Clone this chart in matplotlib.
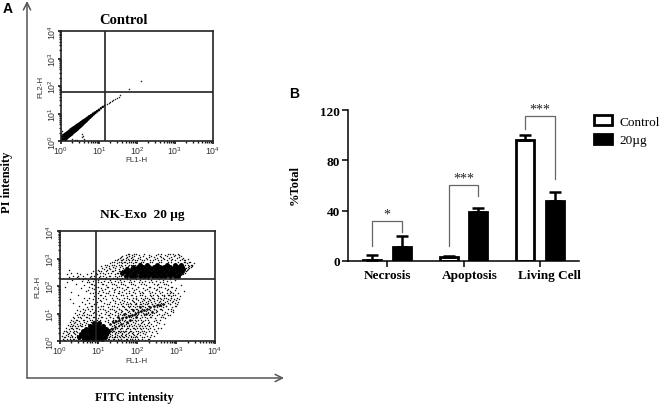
import matplotlib.pyplot as plt
from matplotlib.patches import Patch
from matplotlib.transforms import ScaledTranslation

plt.rcParams['font.family'] = ['Liberation Serif', 'DejaVu Sans']
plt.rcParams['mathtext.default'] = 'regular'

W, H = 662, 406

# bar chart values
groups = ["Necrosis", "Apoptosis", "Living Cell"]
control_vals = [1, 3.5, 96]
control_err = [4, 0.3, 4.5]
treated_vals = [11, 39, 48]
treated_err = [9, 3.5, 6.5]
yticks = [0, 40, 80, 120]
stars = ["*", "***", "***"]
# bracket: left foot, top, right foot
bracket_left = [12, 12, 105]
bracket_top = [32, 60.5, 115]
bracket_right = [23, 52, 65]
label_shift = [0, 6, 9]

# flow plots, positions in decades
decades = [0, 1, 2, 3, 4]
ctrl_gate = (1.16, 1.78)
nk_gate = (0.94, 2.25)

# control diagonal band (x, y, marker size)
ctrl_band_x = [0.02, 0.06, 0.1, 0.15, 0.2, 0.25, 0.3, 0.35, 0.4, 0.45, 0.5, 0.55, 0.6, 0.65, 0.7, 0.75, 0.8, 0.85, 0.9, 0.95, 1.0, 1.05, 1.1, 1.15]
ctrl_band_y = [0.05, 0.1, 0.14, 0.2, 0.25, 0.3, 0.37, 0.42, 0.47, 0.53, 0.58, 0.64, 0.7, 0.75, 0.81, 0.87, 0.92, 0.98, 1.03, 1.08, 1.13, 1.19, 1.24, 1.29]
ctrl_band_s = [30, 30, 28, 26, 25, 25, 24, 24, 22, 20, 18, 16, 14, 12, 10, 9, 7, 6, 5, 4, 4, 3, 3, 2]
ctrl_dots_x = [0.0, 0.02, 0.03, 0.05, 0.08, 0.12, 0.3, 0.38, 0.55, 0.57, 0.56, 0.6, 0.42, 0.2, 1.22, 1.26, 1.3, 1.34, 1.38, 1.42, 1.47, 1.52, 1.55, 1.78, 2.1]
ctrl_dots_y = [0.3, 0.22, 0.38, 0.15, 0.02, 0.03, 0.08, 0.05, 0.25, 0.2, 0.15, 0.06, 0.03, 0.42, 1.33, 1.37, 1.41, 1.45, 1.48, 1.52, 1.56, 1.61, 1.66, 1.9, 2.2]

# treated panel, dark parts, one row per y level: (y, [x, ...])
nk_core_rows = [
    (2.38, [1.72, 1.84, 1.95, 2.06, 2.18, 2.28, 2.4, 2.5, 2.62, 2.72, 2.84, 2.96, 3.06]),
    (2.46, [1.62, 1.76, 1.88, 1.98, 2.1, 2.22, 2.32, 2.44, 2.56, 2.66, 2.78, 2.9, 3.0, 3.1]),
    (2.54, [1.68, 1.8, 1.92, 2.04, 2.14, 2.26, 2.38, 2.48, 2.6, 2.72, 2.82, 2.94, 3.04, 3.14]),
    (2.62, [1.74, 1.86, 1.98, 2.08, 2.2, 2.34, 2.44, 2.54, 2.68, 2.78, 2.88, 3.0, 3.1, 3.18]),
    (2.7, [1.9, 2.02, 2.16, 2.3, 2.42, 2.58, 2.7, 2.84, 2.96, 3.06, 3.16]),
    (2.78, [2.08, 2.26, 2.5, 2.76, 2.98, 3.12]),
    (0.06, [0.62, 0.74, 0.86, 0.98, 1.1]),
    (0.15, [0.5, 0.62, 0.72, 0.82, 0.94, 1.04, 1.16]),
    (0.25, [0.56, 0.66, 0.78, 0.88, 0.98, 1.1, 1.2]),
    (0.35, [0.6, 0.72, 0.82, 0.92, 1.02, 1.14, 1.24]),
    (0.45, [0.68, 0.78, 0.88, 0.98, 1.08, 1.2]),
    (0.55, [0.78, 0.9, 1.0, 1.12]),
    (0.65, [0.9, 1.02]),
]

# lower band, medium dark
nk_band_x = [1.3, 1.38, 1.46, 1.54, 1.62, 1.7, 1.78, 1.86, 1.94, 2.02, 2.1, 2.18, 2.26, 2.34, 2.42, 2.5, 2.58, 2.66, 1.42, 1.58, 1.74, 1.9, 2.06, 2.22, 2.38, 1.34, 1.5, 1.66, 1.82, 1.98]
nk_band_y = [0.62, 0.68, 0.72, 0.78, 0.82, 0.86, 0.92, 0.96, 1.0, 1.06, 1.1, 1.14, 1.18, 1.22, 1.26, 1.3, 1.32, 1.36, 0.5, 0.62, 0.7, 1.12, 1.22, 0.98, 1.06, 0.42, 0.86, 1.0, 0.76, 0.88]

# treated panel, scattered dots, one row per y level: (y, [x, ...])
nk_rows = [
    (0.03, [0.12, 0.3, 0.42, 0.55, 1.2, 1.33, 1.45, 1.52, 1.66, 1.74, 1.9, 2.05, 2.2]),
    (0.08, [0.08, 0.2, 0.35, 0.48, 1.15, 1.28, 1.38, 1.5, 1.58, 1.7, 1.82, 1.95, 2.12, 2.3]),
    (0.13, [0.15, 0.27, 0.4, 1.22, 1.35, 1.42, 1.55, 1.63, 1.77, 1.88, 2.0, 2.18]),
    (0.18, [0.06, 0.22, 0.33, 0.46, 1.2, 1.3, 1.44, 1.52, 1.6, 1.72, 1.85, 1.98, 2.25, 2.42]),
    (0.23, [0.17, 0.3, 0.44, 1.25, 1.36, 1.47, 1.58, 1.68, 1.8, 1.92, 2.08, 2.35]),
    (0.28, [0.1, 0.25, 0.38, 0.5, 1.28, 1.42, 1.5, 1.62, 1.75, 1.86, 2.02, 2.15, 2.5]),
    (0.33, [0.2, 0.34, 0.46, 1.34, 1.46, 1.56, 1.66, 1.78, 1.9, 2.06, 2.22, 2.38]),
    (0.38, [0.12, 0.28, 0.42, 1.32, 1.4, 1.52, 1.64, 1.72, 1.84, 1.96, 2.12, 2.3]),
    (0.43, [0.24, 0.36, 0.5, 1.3, 1.44, 1.55, 1.7, 1.82, 1.94, 2.1, 2.28, 2.44]),
    (0.48, [0.18, 0.32, 0.46, 1.38, 1.48, 1.6, 1.76, 1.88, 2.0, 2.16, 2.34, 2.6]),
    (0.53, [0.28, 0.4, 0.55, 1.36, 1.5, 1.62, 1.74, 1.86, 2.04, 2.2, 2.4]),
    (0.58, [0.22, 0.36, 0.52, 0.66, 1.4, 1.54, 1.66, 1.8, 1.92, 2.08, 2.26, 2.48]),
    (0.63, [0.3, 0.44, 0.58, 0.74, 1.3, 1.46, 1.6, 1.72, 1.84, 2.02, 2.18, 2.36, 2.7]),
    (0.68, [0.26, 0.4, 0.62, 0.82, 1.24, 1.42, 1.56, 1.7, 1.9, 2.12, 2.3, 2.52]),
    (0.73, [0.34, 0.5, 0.7, 0.9, 1.16, 1.34, 1.5, 1.66, 1.82, 1.98, 2.16, 2.42]),
    (0.78, [0.3, 0.46, 0.64, 0.84, 1.04, 1.26, 1.44, 1.62, 1.78, 1.94, 2.1, 2.28, 2.58]),
    (0.83, [0.38, 0.56, 0.76, 0.98, 1.2, 1.38, 1.54, 1.72, 1.88, 2.06, 2.24, 2.46, 2.72]),
    (0.88, [0.34, 0.52, 0.72, 0.9, 1.1, 1.3, 1.48, 1.68, 1.84, 2.0, 2.2, 2.36, 2.62]),
    (0.93, [0.44, 0.62, 0.82, 1.02, 1.24, 1.44, 1.6, 1.76, 1.92, 2.1, 2.3, 2.5, 2.8]),
    (0.98, [0.5, 0.7, 0.94, 1.16, 1.36, 1.56, 1.72, 1.86, 2.02, 2.18, 2.34, 2.56, 2.68]),
    (1.03, [0.4, 0.6, 0.86, 1.08, 1.3, 1.5, 1.68, 1.82, 1.96, 2.14, 2.28, 2.44, 2.76]),
    (1.08, [0.54, 0.78, 1.0, 1.24, 1.46, 1.62, 1.78, 1.9, 2.06, 2.22, 2.38, 2.52, 2.86]),
    (1.13, [0.46, 0.66, 0.92, 1.18, 1.4, 1.58, 1.74, 1.88, 2.02, 2.16, 2.32, 2.48, 2.64, 2.92]),
    (1.18, [0.6, 0.84, 1.12, 1.34, 1.54, 1.72, 1.86, 2.0, 2.12, 2.26, 2.42, 2.58, 2.78]),
    (1.23, [0.72, 0.98, 1.26, 1.48, 1.66, 1.8, 1.94, 2.08, 2.2, 2.34, 2.5, 2.66, 2.9]),
    (1.28, [0.5, 0.8, 1.06, 1.36, 1.6, 1.76, 1.9, 2.04, 2.16, 2.3, 2.44, 2.6, 2.74, 3.0]),
    (1.33, [0.66, 0.9, 1.22, 1.5, 1.7, 1.84, 1.98, 2.1, 2.24, 2.38, 2.54, 2.7, 2.84]),
    (1.38, [0.36, 0.76, 1.14, 1.44, 1.64, 1.82, 1.96, 2.14, 2.28, 2.46, 2.62, 2.8, 2.96]),
    (1.43, [0.58, 0.96, 1.3, 1.56, 1.74, 1.92, 2.08, 2.22, 2.36, 2.56, 2.72, 2.9, 3.05]),
    (1.48, [0.7, 1.04, 1.38, 1.62, 1.86, 2.02, 2.18, 2.32, 2.5, 2.66, 2.84, 3.0]),
    (1.53, [0.26, 0.86, 1.2, 1.52, 1.78, 1.98, 2.14, 2.3, 2.44, 2.6, 2.78, 2.94, 3.08]),
    (1.58, [0.62, 1.0, 1.34, 1.66, 1.9, 2.1, 2.26, 2.4, 2.58, 2.74, 2.88, 3.02]),
    (1.63, [0.9, 1.18, 1.46, 1.74, 1.96, 2.2, 2.36, 2.54, 2.7, 2.86, 3.1]),
    (1.68, [0.48, 1.08, 1.3, 1.58, 1.84, 2.06, 2.32, 2.5, 2.68, 2.82, 2.98]),
    (1.73, [0.78, 0.98, 1.24, 1.5, 1.7, 1.94, 2.16, 2.46, 2.76, 2.92, 3.04]),
    (1.78, [0.3, 0.92, 1.12, 1.4, 1.62, 1.88, 2.12, 2.38, 2.64, 2.88]),
    (1.83, [0.68, 1.02, 1.28, 1.54, 1.8, 2.04, 2.3, 2.56, 2.84, 3.2]),
    (1.88, [0.88, 1.16, 1.44, 1.72, 1.98, 2.24, 2.52, 2.8]),
    (1.93, [0.56, 0.84, 1.06, 1.36, 1.6, 1.86, 2.14, 2.42, 2.72, 3.0]),
    (1.98, [0.14, 0.76, 0.98, 1.26, 1.52, 1.76, 2.02, 2.34, 2.62, 2.9]),
    (2.03, [0.64, 0.9, 1.2, 1.46, 1.68, 1.94, 2.22, 2.5, 2.78, 3.12]),
    (2.08, [0.42, 0.8, 1.1, 1.34, 1.58, 1.84, 2.1, 2.44, 2.7]),
    (2.13, [0.2, 0.7, 1.0, 1.24, 1.5, 1.78, 2.04, 2.3, 2.58, 2.88]),
    (2.18, [0.58, 0.86, 1.14, 1.42, 1.66, 1.92, 2.2, 2.48, 2.76]),
    (2.23, [0.32, 0.74, 0.98, 1.3, 1.56, 1.82, 2.08, 2.36, 2.66, 2.96]),
    (2.28, [0.5, 0.66, 0.84, 1.08, 1.38, 1.62, 1.88, 2.14, 2.4, 2.7]),
    (2.33, [0.24, 0.44, 0.78, 1.02, 1.2, 1.48, 1.7, 1.9, 2.16, 2.56, 2.82]),
    (2.38, [0.36, 0.6, 0.88, 1.12, 1.3, 1.54, 1.76, 1.96, 2.24, 2.5, 2.9]),
    (2.43, [0.2, 0.52, 0.72, 0.96, 1.18, 1.42, 1.6, 1.8, 1.98, 2.3, 2.62, 3.0, 3.18]),
    (2.48, [0.3, 0.46, 0.82, 1.04, 1.26, 1.5, 1.66, 1.84, 2.0, 2.22, 2.44, 2.74, 3.06]),
    (2.53, [0.86, 1.08, 1.34, 1.56, 1.72, 1.88, 2.04, 2.36, 2.68, 2.96, 3.2]),
    (2.58, [0.24, 0.98, 1.22, 1.44, 1.62, 1.78, 1.9, 2.1, 2.3, 2.54, 2.82, 3.28]),
    (2.63, [1.14, 1.3, 1.52, 1.68, 1.82, 1.96, 2.18, 2.4, 3.3]),
    (2.68, [1.2, 1.38, 1.56, 1.72, 1.86, 3.3, 3.38]),
    (2.73, [1.06, 1.28, 1.46, 1.62, 1.76, 3.34, 3.42]),
    (2.78, [1.16, 1.36, 1.54, 1.68, 1.84, 3.3, 3.4]),
    (2.83, [1.3, 1.48, 1.6, 1.74, 1.88, 2.04, 3.28, 3.46]),
    (2.88, [1.36, 1.52, 1.66, 1.8, 1.94, 2.1, 2.32, 2.56, 2.8, 3.04, 3.2, 3.36]),
    (2.93, [1.44, 1.58, 1.72, 1.86, 2.0, 2.18, 2.4, 2.62, 2.86, 3.1, 3.24]),
    (2.98, [1.5, 1.64, 1.76, 1.9, 2.08, 2.26, 2.46, 2.7, 2.9, 3.14, 3.3]),
    (3.03, [1.56, 1.7, 1.84, 2.02, 2.22, 2.5, 2.66, 2.82, 3.02, 3.18]),
    (3.08, [1.62, 1.78, 1.92, 2.14, 2.36, 2.58, 2.76, 2.94, 3.12]),
    (3.13, [1.72, 1.86, 2.04, 2.3, 2.48, 2.72, 2.98, 3.08]),
    (3.18, [1.8, 1.96, 2.6, 2.84, 3.04]),
]

# second set between the rows of the first, to break up the stripes
nk_rows_b = [
    (0.055, [0.26, 0.38, 1.24, 1.41, 1.57, 1.73, 1.87, 2.03, 2.27]),
    (0.155, [0.11, 0.31, 1.27, 1.39, 1.49, 1.67, 1.83, 1.93, 2.11, 2.33]),
    (0.255, [0.23, 0.41, 1.31, 1.43, 1.61, 1.71, 1.89, 1.99, 2.19]),
    (0.355, [0.16, 0.37, 1.37, 1.51, 1.59, 1.69, 1.81, 2.03, 2.17, 2.47]),
    (0.455, [0.29, 0.43, 1.33, 1.47, 1.57, 1.73, 1.91, 2.07, 2.23, 2.53]),
    (0.555, [0.33, 0.47, 0.59, 1.43, 1.53, 1.67, 1.79, 1.97, 2.13, 2.31]),
    (0.655, [0.37, 0.53, 0.67, 1.39, 1.51, 1.63, 1.77, 1.93, 2.09, 2.27, 2.57]),
    (0.755, [0.43, 0.61, 0.79, 0.97, 1.37, 1.53, 1.69, 1.87, 2.03, 2.21, 2.49]),
    (0.855, [0.47, 0.67, 0.87, 1.07, 1.29, 1.47, 1.63, 1.79, 1.97, 2.13, 2.33, 2.67]),
    (0.955, [0.57, 0.77, 1.01, 1.27, 1.51, 1.67, 1.81, 1.99, 2.17, 2.39, 2.63, 2.83]),
    (1.055, [0.63, 0.89, 1.19, 1.43, 1.59, 1.77, 1.93, 2.09, 2.27, 2.47, 2.71, 2.91]),
    (1.155, [0.73, 1.03, 1.31, 1.53, 1.69, 1.83, 1.97, 2.11, 2.29, 2.43, 2.61, 2.87]),
    (1.255, [0.83, 1.11, 1.41, 1.63, 1.81, 1.99, 2.13, 2.27, 2.41, 2.57, 2.73, 2.97]),
    (1.355, [0.93, 1.27, 1.57, 1.77, 1.93, 2.07, 2.21, 2.37, 2.53, 2.67, 2.83, 3.03]),
    (1.455, [1.07, 1.43, 1.67, 1.89, 2.11, 2.27, 2.43, 2.59, 2.77, 2.93]),
    (1.555, [0.77, 1.13, 1.47, 1.73, 1.97, 2.19, 2.37, 2.53, 2.69, 2.87]),
    (1.655, [1.03, 1.37, 1.63, 1.87, 2.13, 2.41, 2.63, 2.79, 2.93]),
    (1.755, [0.87, 1.19, 1.53, 1.79, 2.07, 2.33, 2.59, 2.83]),
    (1.855, [0.73, 1.09, 1.39, 1.67, 1.91, 2.19, 2.47, 2.77, 2.97]),
    (1.955, [0.93, 1.23, 1.49, 1.73, 2.01, 2.29, 2.57, 2.87]),
    (2.055, [0.83, 1.13, 1.41, 1.63, 1.89, 2.17, 2.53, 2.73]),
    (2.155, [0.77, 1.07, 1.33, 1.59, 1.83, 2.11, 2.39, 2.67]),
    (2.255, [0.61, 0.89, 1.17, 1.47, 1.73, 1.97, 2.27, 2.57, 2.83]),
    (2.355, [0.47, 0.81, 1.03, 1.27, 1.43, 1.57, 1.67]),
    (2.455, [0.93, 1.13, 1.33, 1.47, 1.59, 3.13, 3.23]),
    (2.555, [1.01, 1.19, 1.37, 1.53, 3.2, 3.26]),
    (2.655, [1.09, 1.27, 1.43, 1.63, 3.26, 3.34]),
    (2.755, [1.22, 1.41, 1.59, 1.79, 1.93, 3.24, 3.37]),
    (2.855, [1.39, 1.57, 1.69, 1.83, 1.97, 2.14, 2.37, 2.61, 2.87, 3.23, 3.33]),
    (2.955, [1.47, 1.61, 1.79, 1.93, 2.11, 2.33, 2.53, 2.77, 2.97, 3.19]),
    (3.055, [1.59, 1.73, 1.87, 2.07, 2.29, 2.43, 2.61, 2.87, 3.07]),
    (3.155, [1.77, 1.91, 2.17, 2.53, 2.79, 2.93]),
]

core_x = [x for y, xs in nk_core_rows for x in xs]
core_y = [y for y, xs in nk_core_rows for x in xs]
dots_x = [x for y, xs in nk_rows + nk_rows_b for x in xs]
dots_y = [y for y, xs in nk_rows + nk_rows_b for x in xs]


def box(l, t, r, b):
    return [l / W, 1 - b / H, (r - l) / W, (b - t) / H]


def flow_panel(rect, gate, xlab_xy, ylab_xy):
    ax = fig.add_axes(box(*rect))
    ax.set_xlim(0, 4)
    ax.set_ylim(0, 4)
    ax.set_xticks(decades)
    ax.set_yticks(decades)
    ax.set_xticklabels(["$10^%d$" % d for d in decades], family='Liberation Sans', fontsize=6.3, color='#333333')
    ax.set_yticklabels(["$10^%d$" % d for d in decades], family='Liberation Sans', fontsize=6.3, color='#333333',
                       rotation=90, va='center')
    minors = [d + m for d in decades[:-1] for m in (0.301, 0.477, 0.602, 0.699, 0.778, 0.845, 0.903, 0.954)]
    ax.set_xticks(minors, minor=True)
    ax.set_yticks(minors, minor=True)
    ax.tick_params(which='major', length=2, width=1.2, pad=0.5, color='#111111')
    ax.tick_params(which='minor', length=1.5, width=1, color='#111111')
    for s in ax.spines.values():
        s.set_linewidth(1.2)
        s.set_color('#222222')
    ax.axvline(gate[0], color='#222222', lw=1.2)
    ax.axhline(gate[1], color='#222222', lw=1.2)
    over.text(*xlab_xy, "FL1-H", family='Liberation Sans', fontsize=5.8, color='#333333', ha='center', va='center')
    over.text(*ylab_xy, "FL2-H", family='Liberation Sans', fontsize=5.8, color='#333333', ha='center', va='center',
              rotation=90)
    return ax


fig = plt.figure(figsize=(W / 100, H / 100), dpi=100)

# full figure overlay in pixels, for the hand drawn axes and labels
over = fig.add_axes([0, 0, 1, 1])
over.set_xlim(0, W)
over.set_ylim(H, 0)
over.axis('off')

arrow = dict(arrowstyle='->', color='#555555', lw=1.1, mutation_scale=13, shrinkA=0, shrinkB=0)
over.annotate("", xy=(27, 2), xytext=(27, 379), arrowprops=arrow)
over.annotate("", xy=(284, 379), xytext=(27, 379), arrowprops=arrow)

over.text(8, 9, "A", family='Liberation Sans', fontweight='bold', fontsize=10, ha='center', va='center')
over.text(294, 94, "B", family='Liberation Sans', fontweight='bold', fontsize=10, ha='center', va='center')
over.text(124, 20, "Control", fontweight='bold', fontsize=10.5, ha='center', va='center')
over.text(142, 215, "NK-Exo  20 µg", fontweight='bold', fontsize=9.6, ha='center', va='center')
over.text(7, 182, "PI intensity", fontweight='bold', fontsize=9, rotation=90, ha='center', va='center')
over.text(134, 398, "FITC intensity", fontweight='bold', fontsize=9, ha='center', va='center')

# control scatter
ax1 = flow_panel((61, 32, 213, 142), ctrl_gate, (136, 161), (41, 87))
ax1.scatter(ctrl_band_x, ctrl_band_y, s=ctrl_band_s, c='black', lw=0)
ax1.scatter(ctrl_dots_x, ctrl_dots_y, s=1.2, c='#222222', lw=0)

# treated scatter
ax2 = flow_panel((59.5, 232, 215, 342), nk_gate, (136, 362), (38, 287))
ax2.scatter(core_x, core_y, s=13, c='black', lw=0)
ax2.scatter(nk_band_x, nk_band_y, s=3.5, c='black', lw=0)
ax2.scatter(dots_x, dots_y, s=1.1, c='#111111', lw=0)

# bar panel
ax3 = fig.add_axes(box(348, 111, 579, 262))
pos = range(len(groups))
offset = 0.19
wid = 0.235
c_x = [p - offset for p in pos]
t_x = [p + offset for p in pos]
err_style = dict(ecolor='black', elinewidth=1.8, capsize=4.5, capthick=1.8)
ax3.bar(c_x, control_vals, wid, color='white', edgecolor='black', linewidth=2)
ax3.errorbar(c_x, control_vals, yerr=[[0] * 3, control_err], fmt='none', zorder=1, **err_style)
ax3.bar(t_x, treated_vals, wid, color='black', edgecolor='black', linewidth=2)
ax3.errorbar(t_x, treated_vals, yerr=[[0] * 3, treated_err], fmt='none', **err_style)

for i in pos:
    bx = [c_x[i], c_x[i], t_x[i], t_x[i]]
    by = [bracket_left[i], bracket_top[i], bracket_top[i], bracket_right[i]]
    ax3.plot(bx, by, color='#666666', lw=0.9, clip_on=False)
    ax3.text(i, bracket_top[i] + 0.5, stars[i], fontsize=10, color='#222222', ha='center', va='bottom',
             clip_on=False)

ax3.set_xlim(-0.51, 2.51)
ax3.set_ylim(0, 120)
ax3.set_xticks(list(pos))
ax3.set_xticklabels(groups, fontweight='bold', fontsize=9.5)
ax3.set_yticks(yticks)
ax3.set_yticklabels(yticks, fontweight='bold', fontsize=9.5)
ax3.tick_params(length=4, width=1.1, pad=2)
for lab, dx in zip(ax3.get_xticklabels(), label_shift):
    lab.set_transform(lab.get_transform() + ScaledTranslation(dx / 100, 0, fig.dpi_scale_trans))
ax3.spines['top'].set_visible(False)
ax3.spines['right'].set_visible(False)
ax3.spines['left'].set_linewidth(1.1)
ax3.spines['bottom'].set_linewidth(1.1)
over.text(295, 185, "%Total", fontweight='bold', fontsize=9, rotation=90, ha='center', va='center')

handles = [Patch(facecolor='white', edgecolor='black', linewidth=2, label='Control'),
           Patch(facecolor='black', edgecolor='black', linewidth=2, label='20µg')]
over.legend(handles=handles, loc='upper left', bbox_to_anchor=(594 / W, 1 - 116 / H), frameon=False,
            fontsize=9.5, handlelength=1.4, handleheight=0.8, handletextpad=0.55, labelspacing=0.45,
            borderpad=0, borderaxespad=0)

fig.savefig("out.png", dpi=100)
